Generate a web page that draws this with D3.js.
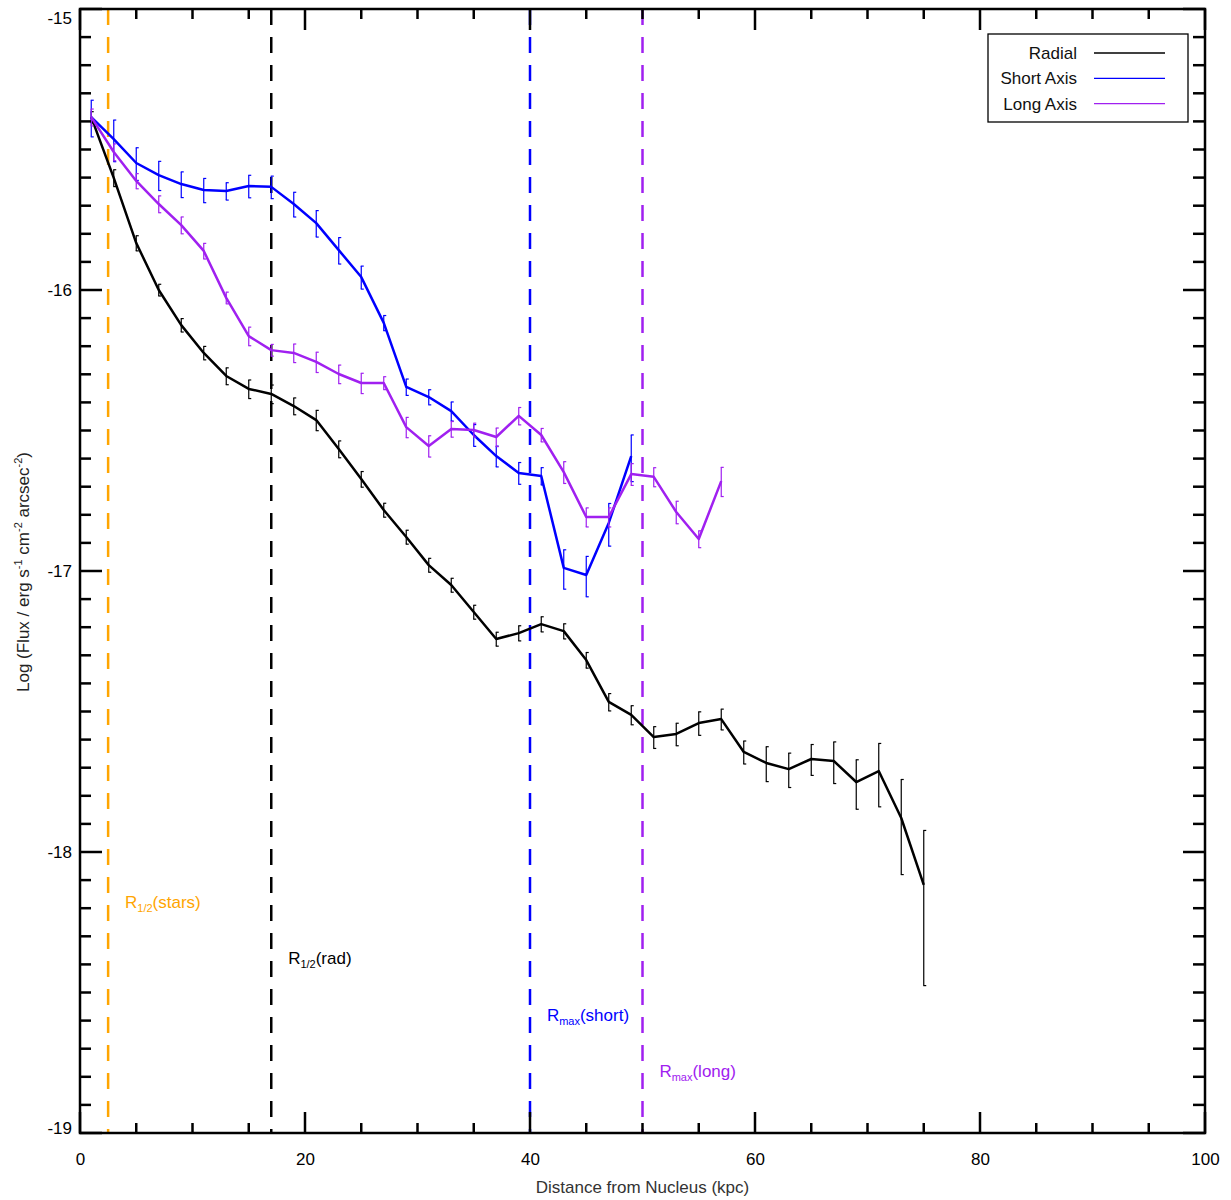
<!DOCTYPE html>
<html>
<head>
<meta charset="utf-8">
<script src="https://cdn.jsdelivr.net/npm/d3@7"></script>
<style>
  html, body { margin: 0; padding: 0; background: #fff; }
  svg { display: block; font-family: "Liberation Sans", Arial, sans-serif; }
</style>
</head>
<body>
<svg id="chart" width="1231" height="1200"></svg>
<script>
// ---- data ----
const radialX = [1,3,5,7,9,11,13,15,17,19,21,23,25,27,29,31,33,35,37,39,41,43,45,47,49,51,53,55,57,59,61,63,65,67,69,71,73,75];
const radialY = [-15.385,-15.601,-15.833,-16.000,-16.125,-16.224,-16.306,-16.352,-16.370,-16.413,-16.463,-16.566,-16.673,-16.783,-16.879,-16.979,-17.050,-17.146,-17.242,-17.221,-17.189,-17.214,-17.317,-17.466,-17.512,-17.591,-17.580,-17.541,-17.527,-17.644,-17.683,-17.705,-17.669,-17.676,-17.751,-17.712,-17.879,-18.117];
const radialErr = [0.046,0.069,0.062,0.048,0.055,0.055,0.069,0.076,0.076,0.069,0.083,0.069,0.064,0.057,0.057,0.057,0.057,0.057,0.057,0.062,0.062,0.062,0.064,0.071,0.078,0.089,0.092,0.096,0.085,0.094,0.142,0.140,0.126,0.169,0.200,0.254,0.371,0.562];

const shortX = [1,3,5,7,9,11,13,15,17,19,21,23,25,27,29,31,33,35,37,39,41,43,45,47,49];
const shortY = [-15.385,-15.463,-15.548,-15.591,-15.623,-15.644,-15.648,-15.630,-15.633,-15.694,-15.762,-15.858,-15.954,-16.117,-16.345,-16.381,-16.431,-16.516,-16.591,-16.651,-16.662,-16.989,-17.014,-16.829,-16.591];
const shortErr = [0.149,0.169,0.133,0.119,0.105,0.099,0.071,0.092,0.092,0.101,0.108,0.108,0.094,0.062,0.067,0.062,0.078,0.089,0.085,0.089,0.071,0.160,0.164,0.173,0.189];

const longX = [1,3,5,7,9,11,13,15,17,19,21,23,25,27,29,31,33,35,37,39,41,43,45,47,49,51,53,55,57];
const longY = [-15.385,-15.509,-15.612,-15.694,-15.769,-15.861,-16.028,-16.164,-16.214,-16.224,-16.256,-16.299,-16.331,-16.331,-16.488,-16.555,-16.495,-16.498,-16.523,-16.448,-16.516,-16.648,-16.808,-16.808,-16.655,-16.665,-16.790,-16.886,-16.680];
const longErr = [0.069,0.069,0.062,0.069,0.069,0.064,0.048,0.076,0.048,0.076,0.083,0.076,0.083,0.053,0.083,0.087,0.064,0.057,0.076,0.071,0.055,0.089,0.078,0.078,0.089,0.078,0.092,0.069,0.119];

const seriesNames = ["Radial", "Short Axis", "Long Axis"];
const seriesColors = ["#000000", "#0000FF", "#A020F0"];

const refX = [2.5, 17, 40, 50];
const refMain = ["R", "R", "R", "R"];
const refSub = ["1/2", "1/2", "max", "max"];
const refTail = ["(stars)", "(rad)", "(short)", "(long)"];
const refLabelY = [-18.2, -18.4, -18.6, -18.8];
const refColors = ["#FFA500", "#000000", "#0000FF", "#A020F0"];

const xMajor = [0, 20, 40, 60, 80, 100];
const yMajor = [-15, -16, -17, -18, -19];

// ---- layout ----
const L = 80, R = 1205, T = 9, B = 1133;
const svg = d3.select("#chart");
const x = d3.scaleLinear().domain([0, 100]).range([L, R]);
const y = d3.scaleLinear().domain([-19, -15]).range([B, T]);

const xMinor = d3.range(0, 100.01, 5).filter(v => v % 20 !== 0);
const yMinor = d3.range(-190, -149, 1).map(v => v / 10).filter(v => Math.abs(v - Math.round(v)) > 1e-6);

const g = svg.append("g");

// reference dashed lines
refX.forEach((v, i) => {
  g.append("line")
    .attr("x1", x(v)).attr("x2", x(v))
    .attr("y1", T).attr("y2", B)
    .attr("stroke", refColors[i]).attr("stroke-width", 2.5)
    .attr("stroke-dasharray", "16,12");
  const t = g.append("text")
    .attr("x", x(v + 1.5)).attr("y", y(refLabelY[i]))
    .attr("fill", refColors[i]).attr("font-size", 17);
  t.append("tspan").text(refMain[i]);
  t.append("tspan").attr("font-size", 11).attr("dy", 4).text(refSub[i]);
  t.append("tspan").attr("dy", -4).text(refTail[i]);
});

// series
const series = [
  {xs: radialX, ys: radialY, es: radialErr},
  {xs: shortX, ys: shortY, es: shortErr},
  {xs: longX, ys: longY, es: longErr}
];
const line = d3.line().x(d => x(d[0])).y(d => y(d[1]));
[0, 1, 2].forEach(si => {
  const s = series[si];
  const pts = s.xs.map((v, i) => [v, s.ys[i], s.es[i]]);
  const col = seriesColors[si];
  const eb = g.append("g");
  pts.forEach(p => {
    const lo = p[1] + Math.log10(1 - p[2]);
    const hi = p[1] + Math.log10(1 + p[2]);
    const cx = x(p[0]);
    eb.append("line").attr("x1", cx).attr("x2", cx).attr("y1", y(lo)).attr("y2", y(hi))
      .attr("stroke", col).attr("stroke-width", 1.2);
    [lo, hi].forEach(vv => {
      eb.append("line").attr("x1", cx - 0.5).attr("x2", cx + 2.5).attr("y1", y(vv)).attr("y2", y(vv))
        .attr("stroke", col).attr("stroke-width", 1.2);
    });
  });
  g.append("path").datum(pts).attr("d", line)
    .attr("fill", "none").attr("stroke", col).attr("stroke-width", 2.5)
    .attr("stroke-linejoin", "round");
});

// frame and ticks
const ax = svg.append("g");
const fmt = d => String(d);
const xAxisB = d3.axisBottom(x).tickValues(xMajor).tickSize(0).tickPadding(20).tickFormat(fmt);
ax.append("g").attr("transform", `translate(0,${B})`).call(xAxisB)
  .call(a => a.select(".domain").remove())
  .call(a => a.selectAll("text").attr("font-size", 17).attr("font-family", "Liberation Sans, Arial, sans-serif").attr("fill", "#000"));
const yAxisL = d3.axisLeft(y).tickValues(yMajor).tickSize(0).tickPadding(8).tickFormat(fmt);
ax.append("g").attr("transform", `translate(${L},0)`).call(yAxisL)
  .call(a => a.select(".domain").remove())
  .call(a => a.selectAll("text").attr("font-size", 17).attr("font-family", "Liberation Sans, Arial, sans-serif").attr("fill", "#000")
    .attr("transform", d => d === -15 ? "translate(0,9)" : (d === -19 ? "translate(0,-5)" : null)));

const tk = ax.append("g").attr("stroke", "#000").attr("stroke-width", 2.5);
xMajor.forEach(v => {
  tk.append("line").attr("x1", x(v)).attr("x2", x(v)).attr("y1", B).attr("y2", B - 21);
  tk.append("line").attr("x1", x(v)).attr("x2", x(v)).attr("y1", T).attr("y2", T + 21);
});
xMinor.forEach(v => {
  tk.append("line").attr("x1", x(v)).attr("x2", x(v)).attr("y1", B).attr("y2", B - 10);
  tk.append("line").attr("x1", x(v)).attr("x2", x(v)).attr("y1", T).attr("y2", T + 10);
});
yMajor.forEach(v => {
  tk.append("line").attr("x1", L).attr("x2", L + 22).attr("y1", y(v)).attr("y2", y(v));
  tk.append("line").attr("x1", R).attr("x2", R - 22).attr("y1", y(v)).attr("y2", y(v));
});
yMinor.forEach(v => {
  tk.append("line").attr("x1", L).attr("x2", L + 11).attr("y1", y(v)).attr("y2", y(v));
  tk.append("line").attr("x1", R).attr("x2", R - 12).attr("y1", y(v)).attr("y2", y(v));
});
ax.append("rect").attr("x", L).attr("y", T).attr("width", R - L).attr("height", B - T)
  .attr("fill", "none").attr("stroke", "#000").attr("stroke-width", 2.5);

// axis titles
svg.append("text").attr("x", (L + R) / 2).attr("y", 1193).attr("text-anchor", "middle")
  .attr("font-size", 17).attr("fill", "#333").text("Distance from Nucleus (kpc)");

const yt = svg.append("text").attr("transform", "translate(29,572) rotate(-90)")
  .attr("text-anchor", "middle").attr("font-size", 17).attr("fill", "#222");
yt.append("tspan").text("Log (Flux / erg s");
yt.append("tspan").attr("font-size", 11).attr("dy", -7).text("-1");
yt.append("tspan").attr("dy", 7).text(" cm");
yt.append("tspan").attr("font-size", 11).attr("dy", -7).text("-2");
yt.append("tspan").attr("dy", 7).text(" arcsec");
yt.append("tspan").attr("font-size", 11).attr("dy", -7).text("-2");
yt.append("tspan").attr("dy", 7).text(")");

// legend
const lg = svg.append("g");
lg.append("rect").attr("x", 988).attr("y", 34).attr("width", 200).attr("height", 88)
  .attr("fill", "#fff").attr("stroke", "#000").attr("stroke-width", 1.3);
seriesNames.forEach((n, i) => {
  const yy = 53 + i * 25.3;
  lg.append("text").attr("x", 1077).attr("y", yy + 6).attr("text-anchor", "end")
    .attr("font-size", 17).attr("fill", "#111").text(n);
  lg.append("line").attr("x1", 1094).attr("x2", 1165).attr("y1", yy).attr("y2", yy)
    .attr("stroke", seriesColors[i]).attr("stroke-width", 1.3);
});
</script>
</body>
</html>
